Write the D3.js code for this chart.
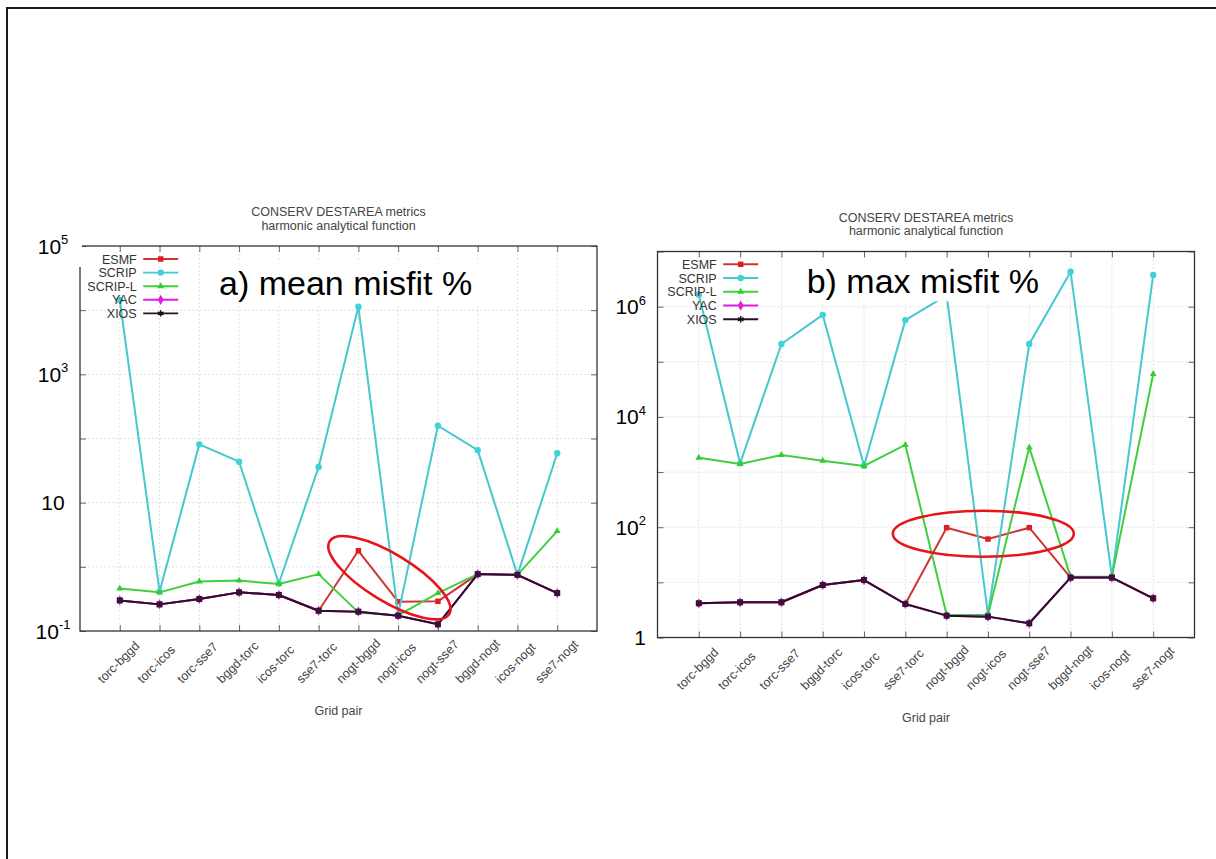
<!DOCTYPE html>
<html><head><meta charset="utf-8">
<script src="https://cdn.jsdelivr.net/npm/d3@7"></script>
<style>
body{margin:0;background:#fff}
svg{display:block}
text{font-family:"Liberation Sans",Arial,Helvetica,sans-serif}
</style>
</head><body>
<svg id="c" width="1216" height="859"></svg>
<script>
// ---------------- DATA ----------------
const categories = ["torc-bggd","torc-icos","torc-sse7","bggd-torc","icos-torc","sse7-torc",
                    "nogt-bggd","nogt-icos","nogt-sse7","bggd-nogt","icos-nogt","sse7-nogt"];
const seriesNames = ["ESMF","SCRIP","SCRIP-L","YAC","XIOS"];

// a) mean misfit %
const meanESMF   = [0.30, 0.26, 0.315, 0.40, 0.364, 0.207, 1.78,  0.286, 0.29,  0.77, 0.75, 0.39];
const meanSCRIP  = [14400, 0.41, 81, 43.5, 0.55, 36, 11300, 0.18, 158, 66, 0.75, 59];
const meanSCRIPL = [0.46, 0.40, 0.59, 0.61, 0.54, 0.77, 0.195, 0.175, 0.39, 0.77, 0.75, 3.6];
const meanYAC    = [0.30, 0.26, 0.315, 0.40, 0.364, 0.207, 0.20, 0.173, 0.127, 0.77, 0.75, 0.39];
const meanXIOS   = [0.30, 0.26, 0.315, 0.40, 0.364, 0.207, 0.20, 0.173, 0.127, 0.77, 0.75, 0.39];

// b) max misfit %
const maxESMF   = [4.17, 4.35, 4.35, 8.95, 11, 4.05, 98, 61, 98, 12.2, 12.2, 5.14];
const maxSCRIP  = [1.65e6, 1440, 2.1e5, 7.1e5, 1300, 5.7e5, 1.6e6, 2.6, 2.1e5, 4.3e6, 12.7, 3.75e6];
const maxSCRIPL = [1820, 1400, 2040, 1610, 1290, 3100, 2.56, 2.56, 2800, 12.7, 12.7, 6.0e4];
const maxYAC    = [4.17, 4.35, 4.35, 8.95, 11, 4.05, 2.49, 2.39, 1.81, 12.2, 12.2, 5.14];
const maxXIOS   = [4.17, 4.35, 4.35, 8.95, 11, 4.05, 2.49, 2.39, 1.81, 12.2, 12.2, 5.14];

const meanTicks = [1e5, 1e3, 10, 0.1];
const maxTicks  = [1e6, 1e4, 1e2, 1];

const titleLines = ["CONSERV DESTAREA metrics", "harmonic analytical function"];
const xAxisTitle = "Grid pair";

// ---------------- STYLE ----------------
const lineColor = {"ESMF":"#cf3535","SCRIP":"#45c8ce","SCRIP-L":"#3fcf3f","YAC":"#e01ee0","XIOS":"#2a0f2a"};
const markColor = {"ESMF":"#dd1f1f","SCRIP":"#3fd2d8","SCRIP-L":"#33cc33","YAC":"#e01ee0","XIOS":"#3a1238"};

const svg = d3.select("#c");
svg.append("rect").attr("width",1216).attr("height",859).attr("fill","#fff");
// page border (top + left only visible)
svg.append("path").attr("d","M7,859V8H1216").attr("fill","none")
   .attr("stroke","#1a1a1a").attr("stroke-width",2);

function supLabel(sel, v){
  const e = Math.round(Math.log10(v));
  if (e === 0) { sel.append("tspan").text("1"); return; }
  sel.append("tspan").text("10");
  if (e !== 1) sel.append("tspan").attr("font-size",13).attr("dy",-9.5).text(String(e));
}

function marker(g, name, cx, cy, inLegend){
  let sym, size;
  if (name==="ESMF"){ sym=d3.symbolSquare; size=30; }
  else if (name==="SCRIP"){ sym=d3.symbolCircle; size=32; }
  else if (name==="SCRIP-L"){ sym=d3.symbolTriangle; size=20; }
  else if (name==="YAC"){ sym=d3.symbolDiamond; size=30; }
  else { sym=d3.symbolSquare; size=36; }
  if (name==="XIOS" && inLegend){
    const star = d3.symbolAsterisk || d3.symbolCross;
    g.append("path").attr("d", d3.symbol().type(star).size(28)())
      .attr("transform",`translate(${cx},${cy})`)
      .attr("fill","none").attr("stroke","#111").attr("stroke-width",1.4);
    return;
  }
  g.append("path").attr("d", d3.symbol().type(sym).size(size)())
    .attr("transform",`translate(${cx},${cy})`)
    .attr("fill", markColor[name]);
}

function drawPanel(p){
  const g = svg.append("g");
  const x = d3.scaleLinear().domain([-1, categories.length]).range([p.x0, p.x1]);
  const y = d3.scaleLog().domain(p.yDomain).range([p.y1, p.y0]);
  const e0 = Math.round(Math.log10(p.yDomain[0])), e1 = Math.round(Math.log10(p.yDomain[1]));
  const decades = d3.range(e0, e1+1).map(e => Math.pow(10, e));
  const idx = d3.range(categories.length);

  // grid
  g.append("g").selectAll("line").data(decades.slice(1,-1)).join("line")
    .attr("x1",p.x0).attr("x2",p.x1).attr("y1",d=>y(d)).attr("y2",d=>y(d))
    .attr("stroke","#e0e0e0").attr("stroke-width",1).attr("stroke-dasharray","2,2");
  g.append("g").selectAll("line").data(idx).join("line")
    .attr("x1",d=>x(d)).attr("x2",d=>x(d)).attr("y1",p.y0).attr("y2",p.y1)
    .attr("stroke","#e0e0e0").attr("stroke-width",1).attr("stroke-dasharray","2,2");

  // axes (ticks inside)
  const xb = g.append("g").attr("transform",`translate(0,${p.y1})`)
    .call(d3.axisBottom(x).tickValues(idx).tickSizeInner(-6).tickSizeOuter(0)
      .tickFormat(i => categories[i]));
  xb.select(".domain").remove();
  xb.selectAll(".tick line").attr("stroke","#666");
  xb.selectAll(".tick text")
    .attr("x",null).attr("y",null).attr("dy",null)
    .attr("text-anchor","start")
    .attr("transform","translate(-17.5,53) rotate(-45)")
    .attr("font-size",12.5).attr("fill","#444")
    .attr("font-family",'"Liberation Sans",Arial,sans-serif');
  const xt = g.append("g").attr("transform",`translate(0,${p.y0})`)
    .call(d3.axisTop(x).tickValues(idx).tickSizeInner(-6).tickSizeOuter(0).tickFormat(""));
  xt.select(".domain").remove(); xt.selectAll(".tick line").attr("stroke","#666");
  const yl = g.append("g").attr("transform",`translate(${p.x0},0)`)
    .call(d3.axisLeft(y).tickValues(decades).tickSizeInner(-6).tickSizeOuter(0).tickFormat(""));
  yl.select(".domain").remove(); yl.selectAll(".tick line").attr("stroke","#666");
  const yr = g.append("g").attr("transform",`translate(${p.x1},0)`)
    .call(d3.axisRight(y).tickValues(decades).tickSizeInner(-6).tickSizeOuter(0).tickFormat(""));
  yr.select(".domain").remove(); yr.selectAll(".tick line").attr("stroke","#666");

  // frame
  g.append("rect").attr("x",p.x0).attr("y",p.y0).attr("width",p.x1-p.x0).attr("height",p.y1-p.y0)
    .attr("fill","none").attr("stroke","#333").attr("stroke-width",1.3);

  // series
  const line = d3.line().x((d,i)=>x(i)).y(d=>y(d));
  p.series.forEach((vals, k) => {
    const name = seriesNames[k];
    g.append("path").datum(vals).attr("d", line)
      .attr("fill","none").attr("stroke", lineColor[name]).attr("stroke-width", 2)
      .attr("stroke-linejoin","round");
    const mg = g.append("g");
    vals.forEach((v,i) => marker(mg, name, x(i), y(v), false));
  });

  // legend
  seriesNames.forEach((name,k) => {
    const ly = p.legY + k*p.legStep;
    g.append("text").attr("x",p.legX).attr("y",ly+4.5).attr("text-anchor","end")
      .attr("font-size",12.5).attr("fill","#333").text(name);
    g.append("line").attr("x1",p.legX+6.5).attr("x2",p.legX+41.5).attr("y1",ly).attr("y2",ly)
      .attr("stroke",lineColor[name]).attr("stroke-width",1.9);
    marker(g, name, p.legX+24, ly, true);
  });

  // title
  const cx = (p.x0+p.x1)/2;
  titleLines.forEach((t,i) => {
    g.append("text").attr("x",cx).attr("y",p.y0-30+i*13.7).attr("text-anchor","middle")
      .attr("font-size",12.5).attr("fill","#444").text(t);
  });
  // x axis title
  g.append("text").attr("x",cx).attr("y",p.y1+84).attr("text-anchor","middle")
    .attr("font-size",12.5).attr("fill","#444").text(xAxisTitle);

  // annotation box + text
  g.append("rect").attr("x",p.annX-7).attr("y",p.annY-33).attr("width",p.annW).attr("height",41)
    .attr("fill","#fff");
  g.append("text").attr("x",p.annX).attr("y",p.annY).attr("font-size",34).attr("fill","#000")
    .text(p.annText);

  // pasted y tick labels
  if (p.topLabelBox) {
    g.append("rect").attr("x",28).attr("y",p.y0-10).attr("width",p.x0+2-28).attr("height",31).attr("fill","#fff");
  }
  p.ticks.forEach(v => {
    const t = g.append("text").attr("x",p.labX).attr("y",y(v)+7.5)
      .attr("text-anchor",p.labAnchor).attr("font-size",21).attr("fill","#000");
    supLabel(t, v);
  });

  // highlight ellipse
  g.append("ellipse").attr("rx",p.ell.rx).attr("ry",p.ell.ry)
    .attr("transform",`translate(${x(p.ell.ci)},${y(p.ell.cv)}) rotate(${p.ell.rot})`)
    .attr("fill","none").attr("stroke","#e8141c").attr("stroke-width",2.6);
}

drawPanel({
  x0:80, x1:597, y0:246, y1:631, yDomain:[0.1, 1e5],
  series:[meanESMF, meanSCRIP, meanSCRIPL, meanYAC, meanXIOS],
  ticks: meanTicks, labX:53, labAnchor:"middle", topLabelBox:true,
  legX:136.7, legY:259, legStep:13.6,
  annText:"a) mean misfit %", annX:219, annY:295, annW:268,
  ell:{ci:6.78, cv:0.677, rx:70, ry:23.6, rot:31.3}
});
drawPanel({
  x0:657.5, x1:1194.5, y0:251.5, y1:637.5, yDomain:[1, 1e7],
  series:[maxESMF, maxSCRIP, maxSCRIPL, maxYAC, maxXIOS],
  ticks: maxTicks, labX:646, labAnchor:"end", topLabelBox:false,
  legX:716.7, legY:264.3, legStep:13.75,
  annText:"b) max misfit %", annX:806.7, annY:293.3, annW:247,
  ell:{ci:6.887, cv:76.3, rx:90.5, ry:23, rot:0}
});
</script>
</body></html>
